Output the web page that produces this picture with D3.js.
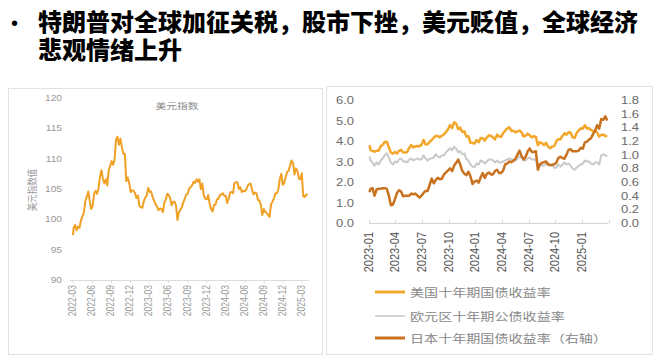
<!DOCTYPE html>
<html><head><meta charset="utf-8">
<script src="https://cdn.jsdelivr.net/npm/d3@7"></script>
<style>
html,body{margin:0;padding:0;background:#fff;}
svg{display:block;}
</style></head>
<body>
<svg id="c" width="666" height="356"></svg>
<script>
// ---------------- DATA ----------------
const titleLines = ["特朗普对全球加征关税，股市下挫，美元贬值，全球经济", "悲观情绪上升"];
const leftTitle = "美元指数";
const leftAxisTitle = "美元指数值";
const dxyYTicks = [90, 95, 100, 105, 110, 115, 120];
const dxyXTicks = ["2022-03","2022-06","2022-09","2022-12","2023-03","2023-06","2023-09","2023-12","2024-03","2024-06","2024-09","2024-12","2025-03"];
// DXY: first point 2022-03-01, then weekly (Fridays) 2022-03-04 .. 2025-03-28
const dxyFirst = ["2022-03-01", 97.4];
const dxyWeekly = [
 // 2022
 98.6,99.1,98.2,98.8, 98.6,99.8,100.5,101.1,103.0, 103.7,104.6,103.0,101.7, 102.2,104.2,104.7,104.2,
 105.1,107.0,108.1,106.7,105.9, 106.6,105.6,108.1,108.8, 109.6,109.0,109.8,113.2,113.6,
 112.3,113.3,111.9,110.8, 110.8,106.3,106.9,106.0, 104.5,104.8,104.7,104.3,103.5,
 // 2023
 103.9,102.2,102.0,101.9, 103.0,103.6,103.9,105.2, 104.5,104.6,103.7,103.1,102.5, 102.1,101.5,101.8,101.7,
 101.2,102.7,103.2,104.2, 104.0,103.5,102.3,102.9,102.9, 102.3,99.9,101.1,101.6, 102.0,102.8,103.4,104.1,
 104.2,105.1,105.3,105.6,106.2, 106.0,106.6,106.2,106.6, 105.0,105.9,103.9,103.4, 103.3,104.0,102.6,101.7,101.3,
 // 2024
 102.4,102.4,103.3,103.4, 104.0,104.1,104.3,103.9, 103.9,102.7,103.4,104.4,104.5, 104.3,106.0,106.1,106.1,
 105.0,105.3,104.5,104.7,104.6, 104.9,105.5,105.8,105.9, 104.9,104.1,104.4,104.3, 103.2,103.1,102.4,100.7,101.7,
 101.2,101.1,100.7,100.4, 102.5,102.9,103.5,104.3, 104.3,105.0,106.7,107.5,105.7, 106.0,107.0,107.8,108.0,
 // 2025
 108.9,109.7,109.3,107.4,108.4, 108.0,106.7,106.6,107.6, 103.8,103.7,104.1,104.0
];

const bondLeftTicks = [0,1,2,3,4,5,6];
const bondRightTicks = [0,0.2,0.4,0.6,0.8,1.0,1.2,1.4,1.6,1.8];
const bondXTicks = ["2023-01","2023-04","2023-07","2023-10","2024-01","2024-04","2024-07","2024-10","2025-01"];
const seriesNames = ["美国十年期国债收益率", "欧元区十年期公债收益率", "日本十年期国债收益率（右轴）"];
// Bonds: first point 2023-01-03, then weekly (Fridays) 2023-01-06 .. 2025-03-28
const bondFirstDate = "2023-01-03";
const usYield = [3.79,
 // 2023
 3.57,3.51,3.48,3.52, 3.53,3.74,3.82,3.95, 3.96,3.70,3.43,3.38,3.47, 3.39,3.52,3.57,3.44, 3.44,3.46,3.67,3.80,
 3.69,3.74,3.76,3.74,3.81, 4.05,3.83,3.84,3.96, 4.05,4.16,4.25,4.24, 4.18,4.26,4.33,4.44,4.57, 4.78,4.63,4.92,4.84,
 4.57,4.65,4.44,4.47, 4.22,4.23,3.91,3.90,3.88,
 // 2024
 4.05,3.94,4.15,4.14, 4.02,4.18,4.28,4.25, 4.18,4.08,4.31,4.22,4.20, 4.39,4.50,4.62,4.67, 4.50,4.50,4.42,4.47,4.51,
 4.43,4.22,4.26,4.36, 4.28,4.18,4.24,4.20, 3.79,3.94,3.89,3.80,3.91, 3.72,3.65,3.73,3.75, 3.98,4.10,4.08,4.24,
 4.37,4.31,4.43,4.41,4.18, 4.15,4.40,4.52,4.62,
 // 2025
 4.60,4.77,4.61,4.62,4.54, 4.49,4.48,4.43,4.21, 4.30,4.31,4.25,4.25
];
const euYield = [3.25,
 // 2023
 3.05,2.95,2.80,2.95, 2.85,3.05,3.15,3.30, 3.40,3.20,2.95,2.85,3.00, 2.95,3.10,3.15,3.00, 3.00,2.95,3.10,3.15,
 3.05,3.10,3.15,3.10,3.10, 3.30,3.15,3.05,3.15, 3.15,3.20,3.35,3.25, 3.20,3.30,3.30,3.45,3.55, 3.65,3.55,3.72,3.62,
 3.45,3.50,3.35,3.40, 3.10,3.05,2.85,2.75,2.72,
 // 2024
 2.90,2.85,3.05,3.00, 2.90,3.00,3.10,3.10, 3.05,2.95,3.05,2.95,2.95, 3.00,3.05,3.10,3.15, 3.10,3.10,3.05,3.15,3.25,
 3.20,3.05,3.05,3.15, 3.20,3.10,3.10,3.05, 2.75,2.85,2.80,2.80,2.90, 2.80,2.80,2.85,2.70, 2.70,2.85,2.75,2.85,
 2.95,2.85,2.90,2.80,2.65, 2.60,2.70,2.80,2.85,
 // 2025
 2.90,3.05,3.00,3.00,2.90, 2.85,2.95,2.95,2.85, 3.30,3.35,3.30,3.25
];
const jpYield = [0.45,
 // 2023
 0.50,0.51,0.40,0.49, 0.50,0.50,0.51,0.51, 0.50,0.40,0.26,0.27,0.35, 0.44,0.48,0.46,0.39, 0.40,0.40,0.40,0.43,
 0.42,0.43,0.40,0.37,0.40, 0.44,0.47,0.47,0.56, 0.65,0.58,0.63,0.66, 0.64,0.65,0.71,0.74,0.77, 0.80,0.76,0.84,0.88,
 0.93,0.85,0.76,0.72, 0.70,0.75,0.68,0.57,0.61,
 // 2024
 0.62,0.59,0.67,0.73, 0.66,0.72,0.74,0.71, 0.71,0.76,0.78,0.73,0.73, 0.77,0.86,0.87,0.90, 0.89,0.91,0.94,1.00,1.06,
 0.98,0.93,0.97,1.05, 1.09,1.04,1.04,1.05, 0.78,0.86,0.88,0.89,0.90, 0.86,0.85,0.85,0.86, 0.88,0.95,0.97,0.95,
 0.94,1.00,1.07,1.08,1.05, 1.05,1.05,1.06,1.10,
 // 2025
 1.09,1.18,1.19,1.22,1.24, 1.30,1.35,1.43,1.38, 1.52,1.51,1.56,1.50
];

// ---------------- DRAW ----------------
const svg = d3.select("#c");
const parse = d3.timeParse("%Y-%m-%d");
const parseM = d3.timeParse("%Y-%m");
const CJK = "'Noto Sans CJK SC','Noto Sans',sans-serif";
const LAT = "'Liberation Sans',Arial,sans-serif";

function stext(g, x, y, str, o) {
  const sx = o.sx || 1, rot = o.rot || 0;
  return g.append("text")
    .attr("transform", `translate(${x},${y}) scale(${sx},1)` + (rot ? ` rotate(${rot})` : ""))
    .attr("text-anchor", o.anchor || "start")
    .attr("font-family", o.family || LAT)
    .attr("font-size", o.size)
    .attr("font-weight", o.weight || "normal")
    .attr("fill", o.fill || "#666")
    .text(str);
}

// Title
stext(svg, 11, 30, "•", {size: 20, fill: "#000", family: LAT});
titleLines.forEach((t, i) => {
  stext(svg, 38, 31 + i * 28, t, {size: 24, weight: 900, fill: "#000", family: CJK});
});

// Panels
svg.append("rect").attr("x", 8.5).attr("y", 88.5).attr("width", 314).attr("height", 266)
  .attr("fill", "none").attr("stroke", "#e2e2e2");
svg.append("rect").attr("x", 326.5).attr("y", 86.5).attr("width", 326).attr("height", 268)
  .attr("fill", "none").attr("stroke", "#e2e2e2");

// ---- Left chart: DXY ----
const L = svg.append("g");
const dxyDates = [parse(dxyFirst[0])].concat(d3.timeFriday.range(new Date(2022, 2, 4), new Date(2025, 2, 29)));
const dxyVals = [dxyFirst[1]].concat(dxyWeekly);
const nD = Math.min(dxyDates.length, dxyVals.length);
const dxyData = d3.range(nD).map(i => ({d: dxyDates[i], v: dxyVals[i]}));

const xL = d3.scaleTime().domain([parseM("2022-03"), parseM("2025-03")]).range([73, 302]);
const yL = d3.scaleLinear().domain([90, 120]).range([280, 98]);

dxyYTicks.forEach(t => stext(L, 62, yL(t) + 3, String(t), {size: 8.5, sx: 1.2, anchor: "end", fill: "#9a9a9a"}));
L.append("line").attr("x1", 70).attr("x2", 309).attr("y1", 280.5).attr("y2", 280.5).attr("stroke", "#dcdcdc");
dxyXTicks.forEach(t => {
  const x = xL(parseM(t));
  L.append("line").attr("x1", x).attr("x2", x).attr("y1", 280).attr("y2", 283).attr("stroke", "#dcdcdc");
  stext(L, x + 3, 285, t, {size: 8.5, sx: 1.2, rot: -90, anchor: "end", fill: "#9a9a9a"});
});
stext(L, 177, 109, leftTitle, {size: 8.5, sx: 1.27, anchor: "middle", fill: "#8a8a8a", family: CJK});
stext(L, 36, 190, leftAxisTitle, {size: 8.5, sx: 1.2, rot: -90, anchor: "middle", fill: "#9a9a9a", family: CJK});

L.append("path").datum(dxyData)
  .attr("d", d3.line().x(p => xL(p.d)).y(p => yL(p.v)))
  .attr("fill", "none").attr("stroke", "#F0A024").attr("stroke-width", 2).attr("stroke-linejoin", "round");

// ---- Right chart: bonds ----
const R = svg.append("g");
const bondDates = [parse(bondFirstDate)].concat(d3.timeFriday.range(new Date(2023, 0, 6), new Date(2025, 2, 29)));
const xR = d3.scaleTime().domain([parseM("2023-01"), parseM("2025-04")]).range([369, 608.5]);
const yRL = d3.scaleLinear().domain([0, 6]).range([223, 100]);
const yRR = d3.scaleLinear().domain([0, 1.8]).range([223, 100]);

bondLeftTicks.forEach(t => stext(R, 354, yRL(t) + 4, t.toFixed(1), {size: 10, sx: 1.3, anchor: "end", fill: "#6a6a6a"}));
bondRightTicks.forEach(t => stext(R, 621, yRR(t) + 4, t.toFixed(1), {size: 10, sx: 1.3, anchor: "start", fill: "#6a6a6a"}));

R.append("line").attr("x1", 369).attr("x2", 608.5).attr("y1", 223.5).attr("y2", 223.5).attr("stroke", "#d4d4d4");
const tickDates = bondXTicks.map(parseM).concat([parseM("2025-04")]);
tickDates.forEach(d => {
  const x = Math.round(xR(d)) + 0.5;
  R.append("line").attr("x1", x).attr("x2", x).attr("y1", 223).attr("y2", 220).attr("stroke", "#d4d4d4");
});
bondXTicks.forEach(t => {
  const x = xR(parseM(t));
  stext(R, x + 4, 232, t, {size: 11, sx: 1.15, rot: -90, anchor: "end", fill: "#555"});
});

function series(vals) {
  const n = Math.min(bondDates.length, vals.length);
  return d3.range(n).map(i => ({d: bondDates[i], v: vals[i]}));
}
const colors = ["#F3A72A", "#C9C9C9", "#C8711E"];
const widths = [2.5, 2, 2.5];
R.append("path").datum(series(euYield))
  .attr("d", d3.line().x(p => xR(p.d)).y(p => yRL(p.v)))
  .attr("fill", "none").attr("stroke", colors[1]).attr("stroke-width", widths[1]).attr("stroke-linejoin", "round");
R.append("path").datum(series(usYield))
  .attr("d", d3.line().x(p => xR(p.d)).y(p => yRL(p.v)))
  .attr("fill", "none").attr("stroke", colors[0]).attr("stroke-width", widths[0]).attr("stroke-linejoin", "round");
R.append("path").datum(series(jpYield))
  .attr("d", d3.line().x(p => xR(p.d)).y(p => yRR(p.v)))
  .attr("fill", "none").attr("stroke", colors[2]).attr("stroke-width", widths[2]).attr("stroke-linejoin", "round");

// Legend
const legY = [292, 316, 338];
const legW = [3, 1.5, 3];
seriesNames.forEach((s, i) => {
  R.append("line").attr("x1", 375).attr("x2", 405).attr("y1", legY[i]).attr("y2", legY[i])
    .attr("stroke", colors[i]).attr("stroke-width", legW[i]);
  stext(R, 410, legY[i] + 4.5, s, {size: 11, sx: 1.28, fill: "#888", family: CJK});
});
</script>
</body></html>
